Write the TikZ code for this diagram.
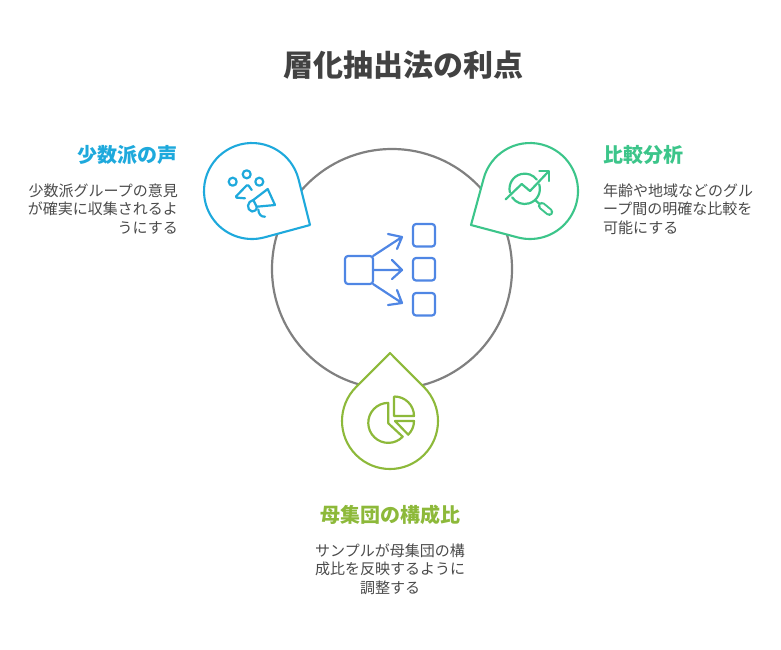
\documentclass[tikz,border=0pt]{standalone}
\usepackage{fontspec}
\setmainfont{Noto Sans CJK JP}
\definecolor{titlecol}{HTML}{424242}
\definecolor{textcol}{HTML}{4A4A4A}
\definecolor{ringcol}{HTML}{808080}
\definecolor{bluecol}{HTML}{1EA9DC}
\definecolor{greencol}{HTML}{3CC58A}
\definecolor{olivecol}{HTML}{8DB93A}
\definecolor{iconcol}{HTML}{4F86E4}
\tikzset{
	headtext/.style={font=\fontsize{20}{24}\selectfont\bfseries},
	bodytext/.style={font=\fontsize{15}{18.6}\selectfont,text=textcol,inner sep=0pt},
	pin/.style={line width=2.1pt,fill=white},
	icon/.style={line width=2.2pt}
}
\begin{document}
\begin{tikzpicture}[line join=round, line cap=round, x=1pt, y=-1pt]
	\useasboundingbox (0,0) rectangle (781,649);
	\node[font=\fontsize{30}{36}\selectfont\bfseries,text=titlecol] (title) at (403,65) {層化抽出法の利点};
	% ring
	\draw[ringcol,line width=2.2pt] (392,269) circle[radius=120];
	% pins
	\draw[pin,draw=bluecol] (310,225) -- ([shift={(-14:48)}]252,191) arc[start angle=-14,end angle=-285.2,radius=48] -- cycle;
	\draw[pin,draw=greencol] (471,225) -- ([shift={(194:48)}]530,191) arc[start angle=194,end angle=465.2,radius=48] -- cycle;
	\draw[pin,draw=olivecol] (390,353) -- ([shift={(-44.9:48)}]390,421) arc[start angle=-44.9,end angle=224.9,radius=48] -- cycle;
	% centre icon
	\draw[icon,iconcol,rounded corners=3pt] (345,256) rectangle (373,284);
	\foreach \y in {224,258,293}
		\draw[icon,iconcol,rounded corners=3pt] (413,\y) rectangle (435,\y+22.5);
	\draw[icon,iconcol] (373,256)--(402,237) (388,234)--(402,237)--(397,249);
	\draw[icon,iconcol] (373,270)--(402,270) (392,260)--(402,270)--(392,279);
	\draw[icon,iconcol] (373,284)--(402,303) (388,305)--(402,303)--(397,290);
	% megaphone
	\foreach \x/\y in {232.7/181.7,246.7/174.3,259.3/181.7}
		\draw[icon,bluecol] (\x,\y) circle[radius=4];
	\draw[icon,bluecol,rounded corners=1.5pt] (245,198.3)--(235,197.5)--(247.7,184.3)--(251.7,190);
	\draw[icon,bluecol] (267.7,189)--(275,205)--(256.7,206.7)--(253.3,200)--cycle;
	\draw[icon,bluecol] (253.3,200) .. controls (247,201) and (246,210) .. (252,211.5) .. controls (254,212) and (257,210) .. (256.7,206.7);
	\draw[icon,bluecol] (258.3,209.5) .. controls (258.5,214) and (261,217) .. (265,216.7);
	% chart and lens
	\draw[icon,greencol] ([shift={(166:15.2)}]524.7,188.8) arc[start angle=166,end angle=323,radius=15.2];
	\draw[icon,greencol] ([shift={(-17:15.2)}]524.7,188.8) arc[start angle=-17,end angle=146,radius=15.2];
	\draw[icon,greencol] (505.7,199.3)--(521.7,184)--(530,191)--(548.3,171.7);
	\draw[icon,greencol] (539.3,171)--(549.3,171)--(549.3,181);
	\draw[icon,greencol] (535,200)--(540,204.3);
	\draw[line width=7.8pt,greencol] (541.8,205.8)--(549.3,212);
	\draw[line width=3.8pt,white] (541.8,205.8)--(549.3,212);
	% pie
	\draw[icon,olivecol] (388.3,402.8)--(388.3,423.3)--(402.7,436.7) arc[start angle=43.8,end angle=270,radius=20];
	\draw[icon,olivecol] (394,396.7)--(394,416)--(414,416) arc[start angle=0,end angle=-90,radius=19.5];
	\draw[icon,olivecol] (395,421)--(414,421) arc[start angle=0,end angle=46,radius=19]--cycle;
	% texts
	\node[headtext,text=bluecol,anchor=east,inner sep=0pt] (leftHead) at (178,155) {少数派の声};
	\node[bodytext,align=right,anchor=east] (leftBody) at (178,209) {少数派グループの意見\\が確実に収集されるよ\\うにする};
	\node[headtext,text=greencol,anchor=west,inner sep=0pt] (rightHead) at (603,155) {比較分析};
	\node[bodytext,align=left,anchor=west] (rightBody) at (603,209) {年齢や地域などのグル\\ープ間の明確な比較を\\可能にする};
	\node[headtext,text=olivecol,inner sep=0pt] (bottomHead) at (390,515) {母集団の構成比};
	\node[bodytext,align=center] (bottomBody) at (390,569) {サンプルが母集団の構\\成比を反映するように\\調整する};
\end{tikzpicture}
\end{document}
